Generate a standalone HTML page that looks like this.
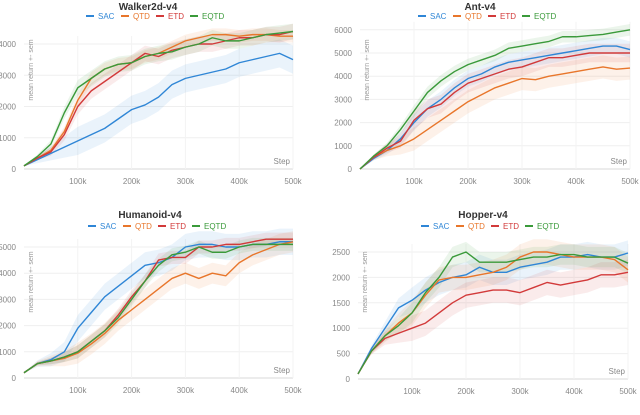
<!DOCTYPE html>
<html><head><meta charset="utf-8"><style>
html,body{margin:0;padding:0;background:#fff;width:640px;height:415px;overflow:hidden}
svg{display:block;font-family:"Liberation Sans",sans-serif}
</style></head><body>
<svg id="fig" width="640" height="415" viewBox="0 0 640 415"></svg>
<script>
const steps=[0,25,50,75,100,125,150,175,200,225,250,275,300,325,350,375,400,425,450,475,500];
const seriesNames=["SAC","QTD","ETD","EQTD"];
const colors=["#2f86d6","#e8762b","#d23a3a","#3a9a3a"];
const xTicks=[100,200,300,400,500];
const xTickLabels=["100k","200k","300k","400k","500k"];
// Walker2d
const walkerSAC=[100,300,500,700,900,1100,1300,1600,1900,2050,2300,2700,2900,3000,3100,3200,3400,3500,3600,3700,3500];
const walkerQTD=[100,350,600,1200,2200,2900,3200,3350,3400,3600,3700,3900,4100,4200,4300,4300,4250,4300,4300,4250,4250];
const walkerETD=[100,350,550,1100,2000,2500,2800,3100,3400,3700,3600,3800,3900,4000,4000,4100,4200,4200,4300,4300,4400];
const walkerEQTD=[100,400,800,1800,2600,2900,3200,3350,3400,3600,3700,3750,3900,4000,4200,4100,4100,4200,4300,4350,4400];
const walkerTicks=[0,1000,2000,3000,4000];
// Ant
const antSAC=[0,450,800,1300,2000,2600,3000,3500,3900,4100,4400,4600,4700,4800,4900,5000,5100,5200,5300,5300,5150];
const antQTD=[0,500,800,1000,1300,1700,2100,2500,2900,3200,3500,3700,3900,3850,4000,4100,4200,4300,4400,4300,4350];
const antETD=[0,500,900,1200,2100,2600,2800,3300,3700,3900,4100,4300,4400,4600,4800,4800,4900,5000,5000,5000,5000];
const antEQTD=[0,550,1000,1700,2500,3300,3800,4200,4500,4700,4900,5200,5300,5400,5500,5700,5700,5750,5800,5900,6000];
const antTicks=[0,1000,2000,3000,4000,5000,6000];
// Humanoid
const humSAC=[200,550,700,1000,1900,2500,3100,3500,3900,4300,4400,4600,5000,5100,5100,5000,5000,5100,5100,5200,5200];
const humQTD=[200,550,650,750,950,1300,1700,2200,2600,3000,3400,3800,4000,3800,4000,3900,4400,4700,4900,5100,5200];
const humETD=[200,550,650,800,1000,1400,1800,2400,3100,3700,4500,4600,4600,5000,5000,5100,5100,5200,5300,5300,5300];
const humEQTD=[200,550,650,800,1000,1400,1800,2300,3000,3700,4300,4700,4800,5000,4800,4800,5000,5100,5100,5100,5100];
const humTicks=[0,1000,2000,3000,4000,5000];
// Hopper
const hopSAC=[100,600,1000,1400,1550,1750,1900,2000,2050,2200,2100,2100,2200,2250,2300,2400,2400,2450,2400,2400,2480];
const hopQTD=[100,550,850,1100,1300,1650,1950,2000,2000,2050,2100,2200,2400,2500,2500,2450,2400,2400,2400,2350,2150];
const hopETD=[100,550,800,900,1000,1100,1300,1500,1650,1700,1750,1750,1700,1800,1900,1850,1900,1950,2050,2050,2100];
const hopEQTD=[100,550,850,1050,1300,1700,2000,2400,2500,2300,2300,2300,2350,2400,2400,2450,2450,2400,2400,2400,2280];
const hopTicks=[0,500,1000,1500,2000,2500];

const NS="http://www.w3.org/2000/svg";
const fig=document.getElementById('fig');
function mk(tag,attrs,parent){const e=document.createElementNS(NS,tag);for(const k in attrs)e.setAttribute(k,attrs[k]);parent.appendChild(e);return e;}

function panel(cfg){
  const g=mk('g',{},fig);
  
  
  const X=s=>cfg.x0+(s/500)*(cfg.x1-cfg.x0);
  const Y=v=>cfg.y0-v*cfg.ppu;
  cfg.ticks.forEach(t=>{
    const l=mk('line',{x1:cfg.x0,x2:cfg.x1,y1:Y(t),y2:Y(t),stroke:t===0?'#d8d8d8':'#efefef','stroke-width':1},g);
    
    
    const tx=mk('text',{x:cfg.x0-8,y:Y(t)+3,'text-anchor':'end','font-size':8,fill:'#888'},g);
    tx.textContent=t;
    
    
  });
  xTicks.forEach((t,i)=>{
    const l=mk('line',{x1:X(t),x2:X(t),y1:cfg.y0,y2:Y(cfg.ticks[cfg.ticks.length-1])-8,stroke:'#f3f3f3','stroke-width':1},g);
    
    
    const tx=mk('text',{x:X(t),y:cfg.y0+15,'text-anchor':'middle','font-size':8,fill:'#888'},g);
    tx.textContent=xTickLabels[i];
    
    
  });
  const st=mk('text',{x:cfg.x1-3,y:cfg.y0-5,'text-anchor':'end','font-size':8,fill:'#888'},g);
  st.textContent='Step';
  
  
  const ya=mk('text',{transform:`translate(${cfg.x0+9},${cfg.yTitleY}) rotate(-90)`,'text-anchor':'middle','font-size':7,fill:'#999'},g);
  ya.textContent='mean return +- sem';
  
  
  const ti=mk('text',{x:cfg.cx,y:cfg.titleY,'text-anchor':'middle','font-size':10,'font-weight':'bold',fill:'#333'},g);
  ti.textContent=cfg.title;
  
  
  const lx=[cfg.cx-62,cfg.cx-27,cfg.cx+8,cfg.cx+42];
  seriesNames.forEach((n,i)=>{
    const ln=mk('line',{x1:lx[i],x2:lx[i]+8,y1:cfg.legY,y2:cfg.legY,stroke:colors[i],'stroke-width':2},g);
    
    
    const tx=mk('text',{x:lx[i]+12,y:cfg.legY+3,'font-size':8,fill:colors[i]},g);
    tx.textContent=n;
    
    
  });
  cfg.data.forEach((d,i)=>{
    const w=cfg.band[i];
    const up=d.map((v,k)=>X(steps[k])+','+Y(v+w*Math.min(1,k/4))).join(' ');
    const dn=d.map((v,k)=>X(steps[k])+','+Y(v-w*Math.min(1,k/4))).reverse().join(' ');
    const p=mk('polygon',{points:up+' '+dn,fill:colors[i],'fill-opacity':0.1},g);
    
    
  });
  cfg.data.forEach((d,i)=>{
    const p=mk('polyline',{points:d.map((v,k)=>X(steps[k])+','+Y(v)).join(' '),fill:'none',stroke:colors[i],'stroke-width':1.4,'stroke-linejoin':'round'},g);
    
    
  });
}
panel({id:'walker',title:'Walker2d-v4',x0:24,x1:293,y0:169,ppu:125/4000,ticks:walkerTicks,cx:148,titleY:10,legY:16,yTitleY:70,
  data:[walkerSAC,walkerQTD,walkerETD,walkerEQTD],band:[450,200,250,250]});
panel({id:'ant',title:'Ant-v4',x0:360,x1:630,y0:169,ppu:116/5000,ticks:antTicks,cx:480,titleY:10,legY:16,yTitleY:70,
  data:[antSAC,antQTD,antETD,antEQTD],band:[350,500,400,250]});
panel({id:'humanoid',title:'Humanoid-v4',x0:24,x1:293,y0:378,ppu:131/5000,ticks:humTicks,cx:150,titleY:218,legY:226,yTitleY:282,
  data:[humSAC,humQTD,humETD,humEQTD],band:[500,400,250,250]});
panel({id:'hopper',title:'Hopper-v4',x0:358,x1:628,y0:379,ppu:127/2500,ticks:hopTicks,cx:483,titleY:218,legY:226,yTitleY:282,
  data:[hopSAC,hopQTD,hopETD,hopEQTD],band:[250,250,250,200]});
</script>
</body></html>
